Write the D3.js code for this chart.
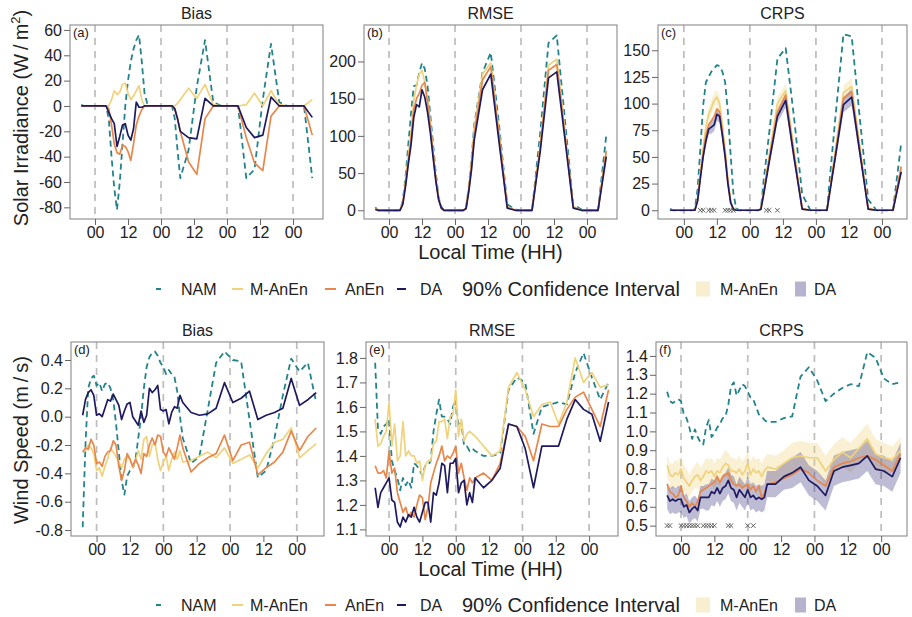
<!DOCTYPE html>
<html><head><meta charset="utf-8">
<script src="https://cdn.jsdelivr.net/npm/d3@7"></script>
<style>
html,body{margin:0;padding:0;background:#fff;}
svg{display:block;font-family:"Liberation Sans",Arial,Helvetica,sans-serif;}
</style></head><body>
<svg id="chart" width="912" height="617"></svg>
<script>
// ---------------- DATA ----------------
// local hour of each forecast step (hourly to +31, then 3-hourly)
const hours = [-5,-4,-3,-2,-1, 0,1,2,3,4, 5,6,7,8,9, 10,11,12,13,14, 15,16,17,18,19, 20,21,22,23,24, 25,26,27,28,29, 30,31,
  34,37,40,43,46, 49,52,55,58,61, 64,67,70,73,76, 79];

const xTickHours  = [0,12,24,36,48,60,72];
const xTickLabels = ["00","12","00","12","00","12","00"];
const midnightHours = [0,24,48,72];

// (a) Solar bias
const biasSolarNAM   = [1,0,0,0,0, 0,0,0,0,0, -10,-40,-65,-82,-60, -30,0,20,35,45, 52,56,35,10,2, 0,0,0,0,0, 0,0,0,0,-10, -35,-57, -35,15,52,3,0, 0,0,-57,-50,5, 49,3,0,0,0, -57];
const biasSolarMAnEn = [0,0,0,0,0, 0,0,0,0,0, 0,5,12,9,11, 17,18,10,5,8, 12,16,5,0,0, 0,0,0,0,0, 0,0,0,0,0, 2,5, 14,6,17,1,0, 0,0,1,10,0, 12,1,0,0,0, 5];
const biasSolarAnEn  = [0,0,0,0,0, 0,0,0,0,0, -2,-15,-30,-37,-38, -31,-32,-36,-43,-30, -15,-8,-3,0,0, 0,0,0,0,0, 0,0,0,0,-3, -10,-20, -44,-54,-10,0,0, 0,0,-25,-45,-51, -8,0,0,0,0, -23];
const biasSolarDA    = [0,0,0,0,0, 0,0,0,0,0, -5,-10,-14,-32,-24, -15,-14,-23,-27,-18, 3,-1,-1,0,0, 0,0,0,0,0, 0,0,0,0,-2, -10,-20, -25,-26,6,0,0, 0,0,-17,-25,-23, 7,0,0,0,0, -9];
const ticksBiasSolar  = [-80,-60,-40,-20,0,20,40,60];
const labelsBiasSolar = ["-80","-60","-40","-20","0","20","40","60"];

// (b) Solar RMSE
const rmseSolarNAM   = [4,0,0,0,0, 0,0,0,0,1, 12,45,88,130,167, 168,185,198,190,168, 128,90,50,18,5, 0,0,0,0,0, 0,0,0,3,32, 70,115, 185,212,115,8,1, 0,0,105,225,235, 120,8,1,0,0, 101];
const rmseSolarMAnEn = [2,0,0,0,0, 0,0,0,0,0, 10,38,72,105,148, 168,183,188,172,150, 118,80,44,16,3, 0,0,0,0,0, 0,0,0,3,30, 65,110, 183,198,105,5,0, 0,0,88,195,203, 105,5,0,0,0, 79];
const rmseSolarAnEn  = [2,0,0,0,0, 0,0,0,0,0, 9,35,66,95,135, 150,157,168,172,145, 112,76,42,16,3, 0,0,0,0,0, 0,0,0,3,28, 60,103, 175,193,100,4,0, 0,0,85,188,196, 100,4,0,0,0, 80];
const rmseSolarDA    = [1,0,0,0,0, 0,0,0,0,0, 8,32,62,88,125, 142,139,162,152,132, 105,72,40,15,3, 0,0,0,0,0, 0,0,0,2,25, 55,95, 162,183,92,3,0, 0,0,80,178,186, 95,3,0,0,0, 72];
const ticksRmseSolar  = [0,50,100,150,200];
const labelsRmseSolar = ["0","50","100","150","200"];

// (c) Solar CRPS
const crpsSolarNAM   = [1.5,0,0,0,0, 0,0,0,0,1, 20,58,98,120,125, 130,133,136,135,130, 120,92,52,16,2, 0,0,0,0,0, 0,0,0,1,28, 50,72, 142,152,88,15,0, 0,0,85,165,163, 85,10,0,0,0, 63];
const crpsSolarMAnEn = [0,0,0,0,0, 0,0,0,0,0, 10,35,58,78,90, 96,103,106,100,80, 57,29,9,1,0, 0,0,0,0,0, 0,0,0,1,17, 34,51, 100,112,57,2,0, 0,0,55,110,116, 59,2,0,0,0, 39];
const crpsSolarAnEn  = [0,0,0,0,0, 0,0,0,0,0, 9,32,53,70,80, 84,88,95,92,74, 53,27,8,1,0, 0,0,0,0,0, 0,0,0,1,16, 32,48, 92,108,53,1,0, 0,0,52,105,111, 56,1,0,0,0, 41];
const crpsSolarDA    = [0,0,0,0,0, 0,0,0,0,0, 9,30,50,65,76, 78,80,90,88,70, 50,25,7,1,0, 0,0,0,0,0, 0,0,0,1,15, 30,45, 88,103,50,1,0, 0,0,49,99,106, 53,1,0,0,0, 36];
const crpsSolarMAnEnHalfCI = [0,0,0,0,0, 0,0,0,0,0, 1,3,4,5,6, 7,7,7,7,6, 5,3,1,0,0, 0,0,0,0,0, 0,0,0,0,1, 3,4, 6,7,5,0,0, 0,0,4,7,8, 5,0,0,0,0, 3];
const crpsSolarDAHalfCI    = [0,0,0,0,0, 0,0,0,0,0, 1,3,4,5,5, 6,6,6,6,5, 4,2,1,0,0, 0,0,0,0,0, 0,0,0,0,1, 2,3, 6,7,4,0,0, 0,0,4,7,8, 4,0,0,0,0, 3];
const crpsSolarSignifHours = [6,7,9,10,11,15,16,17,18,30,31,34];
const crpsSolarSignifLevel = 0;
const ticksCrpsSolar  = [0,25,50,75,100,125,150];
const labelsCrpsSolar = ["0","25","50","75","100","125","150"];

// (d) Wind bias
const biasWindNAM   = [-0.78,-0.2,0.2,0.27,0.29, 0.22,0.24,0.18,0.23,0.24, 0.2,0.12,-0.05,-0.25,-0.45, -0.55,-0.42,-0.38,-0.37,-0.3, -0.15,0.0,0.2,0.35,0.42, 0.45,0.46,0.43,0.38,0.35, 0.3,0.33,0.3,0.28,0.18, 0.0,-0.15, -0.33,-0.28,0.05,0.38,0.46, 0.4,0.39,-0.02,-0.43,-0.38, -0.15,0.15,0.41,0.32,0.38, 0.1];
const biasWindMAnEn = [-0.25,-0.24,-0.2,-0.22,-0.26, -0.38,-0.36,-0.42,-0.35,-0.3, -0.22,-0.25,-0.28,-0.32,-0.36, -0.3,-0.28,-0.3,-0.36,-0.31, -0.24,-0.3,-0.16,-0.14,-0.28, -0.2,-0.18,-0.3,-0.38,-0.32, -0.28,-0.38,-0.3,-0.25,-0.3, -0.24,-0.32, -0.31,-0.28,-0.25,-0.29,-0.22, -0.33,-0.3,-0.27,-0.36,-0.26, -0.18,-0.16,-0.08,-0.29,-0.24, -0.19];
const biasWindAnEn  = [-0.25,-0.22,-0.23,-0.16,-0.2, -0.33,-0.32,-0.35,-0.28,-0.25, -0.24,-0.17,-0.2,-0.35,-0.45, -0.38,-0.26,-0.3,-0.35,-0.3, -0.34,-0.4,-0.26,-0.28,-0.2, -0.15,-0.2,-0.13,-0.14,-0.25, -0.28,-0.22,-0.26,-0.3,-0.22, -0.13,-0.22, -0.39,-0.33,-0.29,-0.26,-0.13, -0.31,-0.2,-0.18,-0.41,-0.36, -0.32,-0.25,-0.1,-0.24,-0.14, -0.08];
const biasWindDA    = [0.01,0.12,0.17,0.19,0.15, 0.01,0.02,0.0,0.06,0.12, 0.11,0.16,0.12,0.08,-0.02, 0.04,0.09,0.1,0.0,-0.03, -0.06,0.04,-0.04,0.01,0.2, 0.17,0.19,0.22,0.05,0.04, 0.05,-0.05,0.03,0.07,0.06, 0.15,0.1, 0.03,0.01,0.02,0.06,0.24, 0.1,0.13,0.18,-0.02,0.01, 0.03,0.06,0.27,0.08,0.12, 0.17];
const ticksBiasWind  = [-0.8,-0.6,-0.4,-0.2,0,0.2,0.4];
const labelsBiasWind = ["-0.8","-0.6","-0.4","-0.2","0.0","0.2","0.4"];

// (e) Wind RMSE
const rmseWindNAM   = [1.78,1.51,1.49,1.52,1.53, 1.55,1.38,1.34,1.31,1.26, 1.31,1.28,1.3,1.27,1.37, 1.36,1.34,1.32,1.36,1.36, 1.38,1.5,1.57,1.63,1.56, 1.56,1.55,1.53,1.6,1.63, 1.52,1.54,1.44,1.44,1.42, 1.43,1.42, 1.4,1.4,1.41,1.67,1.72, 1.7,1.49,1.6,1.61,1.62, 1.61,1.74,1.82,1.72,1.63, 1.7];
const rmseWindMAnEn = [1.55,1.44,1.45,1.48,1.5, 1.62,1.44,1.53,1.38,1.4, 1.54,1.4,1.42,1.4,1.4, 1.37,1.38,1.3,1.36,1.38, 1.38,1.45,1.46,1.54,1.54, 1.55,1.47,1.56,1.57,1.67, 1.48,1.55,1.46,1.49,1.5, 1.49,1.48, 1.44,1.4,1.42,1.68,1.74, 1.67,1.56,1.61,1.62,1.53, 1.62,1.8,1.7,1.74,1.68, 1.69];
const rmseWindAnEn  = [1.36,1.33,1.33,1.34,1.31, 1.42,1.33,1.35,1.25,1.21, 1.17,1.19,1.15,1.17,1.15, 1.2,1.24,1.23,1.14,1.19, 1.29,1.33,1.37,1.4,1.44, 1.38,1.4,1.39,1.41,1.44, 1.33,1.37,1.31,1.26,1.31, 1.29,1.31, 1.33,1.3,1.37,1.53,1.52, 1.48,1.38,1.53,1.52,1.52, 1.59,1.64,1.66,1.59,1.52, 1.67];
const rmseWindDA    = [1.27,1.19,1.25,1.27,1.29, 1.31,1.22,1.21,1.13,1.11, 1.15,1.13,1.16,1.15,1.19, 1.15,1.13,1.17,1.21,1.21, 1.13,1.25,1.24,1.29,1.37, 1.36,1.25,1.37,1.37,1.39, 1.25,1.29,1.3,1.2,1.25, 1.21,1.31, 1.27,1.3,1.35,1.53,1.52, 1.43,1.27,1.44,1.44,1.44, 1.55,1.63,1.59,1.57,1.46, 1.62];
const ticksRmseWind  = [1.1,1.2,1.3,1.4,1.5,1.6,1.7,1.8];
const labelsRmseWind = ["1.1","1.2","1.3","1.4","1.5","1.6","1.7","1.8"];

// (f) Wind CRPS
const crpsWindNAM   = [1.21,1.16,1.15,1.16,1.17, 1.16,1.09,1.07,1.02,0.96, 1.01,0.97,0.94,0.93,1.02, 1.06,0.97,0.99,1.02,1.04, 1.07,1.08,1.14,1.24,1.26, 1.19,1.22,1.25,1.24,1.21, 1.18,1.17,1.13,1.09,1.08, 1.06,1.05, 1.05,1.07,1.08,1.29,1.34, 1.27,1.16,1.2,1.23,1.25, 1.24,1.42,1.39,1.28,1.25, 1.26];
const crpsWindMAnEn = [0.82,0.77,0.76,0.78,0.77, 0.8,0.75,0.73,0.71,0.74, 0.76,0.77,0.74,0.76,0.79, 0.78,0.79,0.76,0.79,0.78, 0.81,0.83,0.82,0.79,0.79, 0.78,0.8,0.77,0.79,0.83, 0.77,0.8,0.78,0.79,0.76, 0.79,0.81, 0.8,0.83,0.86,0.87,0.86, 0.86,0.79,0.85,0.89,0.86, 0.91,0.96,0.88,0.86,0.85, 0.9];
const crpsWindAnEn  = [0.72,0.68,0.67,0.65,0.66, 0.71,0.65,0.63,0.6,0.62, 0.6,0.63,0.68,0.69,0.7, 0.71,0.72,0.73,0.76,0.73, 0.76,0.77,0.78,0.74,0.72, 0.71,0.72,0.7,0.71,0.72, 0.69,0.71,0.68,0.71,0.65, 0.67,0.72, 0.73,0.75,0.77,0.8,0.78, 0.74,0.71,0.81,0.83,0.84, 0.86,0.87,0.85,0.82,0.79, 0.88];
const crpsWindDA    = [0.66,0.63,0.64,0.63,0.64, 0.64,0.6,0.61,0.57,0.59, 0.6,0.58,0.65,0.65,0.65, 0.65,0.68,0.67,0.7,0.67, 0.7,0.71,0.74,0.7,0.69, 0.65,0.69,0.67,0.65,0.69, 0.65,0.66,0.64,0.65,0.64, 0.65,0.72, 0.72,0.76,0.78,0.81,0.74, 0.71,0.66,0.79,0.81,0.82, 0.83,0.87,0.8,0.79,0.76, 0.86];
const crpsWindMAnEnHalfCI = [0.06,0.06,0.07,0.07,0.07, 0.07,0.07,0.07,0.06,0.06, 0.06,0.07,0.07,0.07,0.07, 0.07,0.07,0.07,0.07,0.07, 0.07,0.07,0.07,0.07,0.07, 0.07,0.07,0.07,0.07,0.07, 0.07,0.07,0.07,0.07,0.07, 0.07,0.07, 0.07,0.07,0.08,0.08,0.08, 0.08,0.08,0.08,0.08,0.08, 0.08,0.08,0.08,0.08,0.07, 0.07];
const crpsWindDAHalfCI    = [0.07,0.07,0.07,0.07,0.07, 0.07,0.06,0.06,0.06,0.06, 0.06,0.06,0.06,0.06,0.07, 0.07,0.07,0.07,0.07,0.07, 0.07,0.07,0.07,0.07,0.07, 0.07,0.07,0.07,0.07,0.07, 0.07,0.07,0.07,0.07,0.07, 0.07,0.07, 0.07,0.07,0.08,0.08,0.08, 0.08,0.08,0.08,0.08,0.08, 0.08,0.08,0.08,0.08,0.08, 0.08];
const crpsWindSignifHours = [-5,-4,0,1,2,3,4,5,6,8,9,10,11,12,17,18,24,26];
const crpsWindSignifLevel = 0.5;
const ticksCrpsWind  = [0.5,0.6,0.7,0.8,0.9,1.0,1.1,1.2,1.3,1.4];
const labelsCrpsWind = ["0.5","0.6","0.7","0.8","0.9","1.0","1.1","1.2","1.3","1.4"];

const seriesNames = ["NAM","M-AnEn","AnEn","DA"];

// ---------------- STYLE / LAYOUT ----------------
const colors = {"NAM":"#23838A","M-AnEn":"#F0D27C","AnEn":"#E8874B","DA":"#1F1A5F"};
const bandColors = {"M-AnEn":{fill:"#F0D27C",op:0.33},"DA":{fill:"#3A3480",op:0.33}};

const panels = [
  {tag:"(a)",title:"Bias",x0:70,x1:323,y0:25,y1:219,xd:[-9.1,82.9],yd:[-89.2,63.9],
   s:[biasSolarNAM,biasSolarMAnEn,biasSolarAnEn,biasSolarDA],yt:ticksBiasSolar,yl:labelsBiasSolar},
  {tag:"(b)",title:"RMSE",x0:364,x1:617,y0:25,y1:219,xd:[-9.1,82.9],yd:[-11.7,249],
   s:[rmseSolarNAM,rmseSolarMAnEn,rmseSolarAnEn,rmseSolarDA],yt:ticksRmseSolar,yl:labelsRmseSolar},
  {tag:"(c)",title:"CRPS",x0:658,x1:907,y0:25,y1:219,xd:[-9.4,81.1],yd:[-8.2,173.7],
   s:[crpsSolarNAM,crpsSolarMAnEn,crpsSolarAnEn,crpsSolarDA],yt:ticksCrpsSolar,yl:labelsCrpsSolar,
   bands:[crpsSolarMAnEnHalfCI,crpsSolarDAHalfCI],sig:crpsSolarSignifHours,sigLevel:crpsSolarSignifLevel},
  {tag:"(d)",title:"Bias",x0:71,x1:324,y0:342,y1:536,xd:[-9.2,81.8],yd:[-0.842,0.527],
   s:[biasWindNAM,biasWindMAnEn,biasWindAnEn,biasWindDA],yt:ticksBiasWind,yl:labelsBiasWind},
  {tag:"(e)",title:"RMSE",x0:366,x1:618,y0:342,y1:536,xd:[-8.3,82.4],yd:[1.073,1.865],
   s:[rmseWindNAM,rmseWindMAnEn,rmseWindAnEn,rmseWindDA],yt:ticksRmseWind,yl:labelsRmseWind},
  {tag:"(f)",title:"CRPS",x0:656,x1:907,y0:342,y1:536,xd:[-9.0,81.3],yd:[0.445,1.474],
   s:[crpsWindNAM,crpsWindMAnEn,crpsWindAnEn,crpsWindDA],yt:ticksCrpsWind,yl:labelsCrpsWind,
   bands:[crpsWindMAnEnHalfCI,crpsWindDAHalfCI],sig:crpsWindSignifHours,sigLevel:crpsWindSignifLevel}
];

const svg = d3.select("#chart");
const defs = svg.append("defs");

panels.forEach((p,pi) => {
  const x = d3.scaleLinear().domain(p.xd).range([p.x0,p.x1]);
  const y = d3.scaleLinear().domain(p.yd).range([p.y1,p.y0]);
  const g = svg.append("g");
  const cid = "clip"+pi;
  defs.append("clipPath").attr("id",cid).append("rect")
    .attr("x",p.x0).attr("y",p.y0).attr("width",p.x1-p.x0).attr("height",p.y1-p.y0);
  const plot = g.append("g").attr("clip-path",`url(#${cid})`);

  // midnight dashed lines
  plot.selectAll("line.mid").data(midnightHours).join("line")
    .attr("x1",d=>x(d)).attr("x2",d=>x(d)).attr("y1",p.y0).attr("y2",p.y1)
    .attr("stroke","#BDBDBD").attr("stroke-width",1.7).attr("stroke-dasharray","7,6");

  // confidence bands
  if (p.bands) {
    [["M-AnEn",p.s[1],p.bands[0]],["DA",p.s[3],p.bands[1]]].forEach(([nm,c,hw])=>{
      const area = d3.area().x((d,i)=>x(hours[i])).y0((d,i)=>y(c[i]-hw[i])).y1((d,i)=>y(c[i]+hw[i]));
      plot.append("path").datum(c).attr("d",area)
        .attr("fill",bandColors[nm].fill).attr("fill-opacity",bandColors[nm].op).attr("stroke","none");
    });
  }

  // series lines
  const line = d3.line().x((d,i)=>x(hours[i])).y(d=>y(d));
  p.s.forEach((vals,si)=>{
    const nm = seriesNames[si];
    const path = plot.append("path").datum(vals).attr("d",line)
      .attr("fill","none").attr("stroke",colors[nm])
      .attr("stroke-width", nm==="NAM"?1.8:1.7).attr("stroke-linejoin","round");
    if (nm==="NAM") path.attr("stroke-dasharray","6,4");
  });

  // significance crosses
  if (p.sig) {
    plot.selectAll("path.sig").data(p.sig).join("path")
      .attr("transform",d=>`translate(${x(d)},${y(p.sigLevel)})`)
      .attr("d","M-2.3,-2.3L2.3,2.3M-2.3,2.3L2.3,-2.3")
      .attr("stroke","#555").attr("stroke-width",0.9).attr("fill","none");
  }

  // box
  g.append("rect").attr("x",p.x0).attr("y",p.y0).attr("width",p.x1-p.x0).attr("height",p.y1-p.y0)
    .attr("fill","none").attr("stroke","#8a8a8a").attr("stroke-width",1.1);

  // axes
  const xa = g.append("g").attr("transform",`translate(0,${p.y1})`)
    .call(d3.axisBottom(x).tickValues(xTickHours).tickFormat((d,i)=>xTickLabels[i]).tickSize(6).tickPadding(2));
  const ya = g.append("g").attr("transform",`translate(${p.x0},0)`)
    .call(d3.axisLeft(y).tickValues(p.yt).tickFormat((d,i)=>p.yl[i]).tickSize(6).tickPadding(2));
  [xa,ya].forEach(a=>{
    a.select(".domain").remove();
    a.selectAll(".tick line").attr("stroke","#666");
    a.selectAll(".tick text").attr("fill","#222").attr("font-size",16)
      .attr("font-family",'"Liberation Sans",Arial,sans-serif');
  });

  // title + tag
  g.append("text").attr("x",(p.x0+p.x1)/2).attr("y",p.y0-6.5).attr("text-anchor","middle")
    .attr("font-size",16).attr("fill","#222").text(p.title);
  g.append("text").attr("x",p.x0+3).attr("y",p.y0+11.5).attr("font-size",13).attr("fill","#222").text(p.tag);
});

// axis titles
function yTitle(cy, parts){
  const t = svg.append("text").attr("transform",`translate(28,${cy}) rotate(-90)`)
    .attr("text-anchor","middle").attr("font-size",20).attr("fill","#222");
  parts(t);
}
yTitle(118, t=>{
  t.append("tspan").text("Solar Irradiance (W\u2009/\u2009m");
  t.append("tspan").attr("font-size",13).attr("dy",-8).text("2");
  t.append("tspan").attr("dy",8).text(")");
});
yTitle(440, t=>{ t.append("tspan").text("Wind Speed (m\u2009/\u2009s)"); });

[259, 576].forEach(yb=>{
  svg.append("text").attr("x",490.5).attr("y",yb).attr("text-anchor","middle")
    .attr("font-size",20).attr("fill","#222").text("Local Time (HH)");
});

// legends
function legend(yc){
  const lg = svg.append("g");
  const items = [
    {nm:"NAM",   lx0:156, lx1:161, tx:181},
    {nm:"M-AnEn",lx0:232, lx1:243, tx:250},
    {nm:"AnEn",  lx0:325, lx1:336, tx:345},
    {nm:"DA",    lx0:397, lx1:406, tx:420}
  ];
  items.forEach(it=>{
    lg.append("line").attr("x1",it.lx0).attr("x2",it.lx1).attr("y1",yc).attr("y2",yc)
      .attr("stroke",colors[it.nm]).attr("stroke-width",2);
    lg.append("text").attr("x",it.tx).attr("y",yc+5.5).attr("font-size",16).attr("fill","#222").text(it.nm);
  });
  lg.append("text").attr("x",462).attr("y",yc+7).attr("font-size",20).attr("fill","#222").text("90% Confidence Interval");
  lg.append("rect").attr("x",696).attr("y",yc-7.5).attr("width",14).attr("height",15).attr("fill","#F8EFD0");
  lg.append("text").attr("x",720).attr("y",yc+5.5).attr("font-size",16).attr("fill","#222").text("M-AnEn");
  lg.append("rect").attr("x",795).attr("y",yc-7.5).attr("width",11).attr("height",15).attr("fill","#B6B3CE");
  lg.append("text").attr("x",814).attr("y",yc+5.5).attr("font-size",16).attr("fill","#222").text("DA");
}
legend(289);
legend(605);
</script></body></html>
